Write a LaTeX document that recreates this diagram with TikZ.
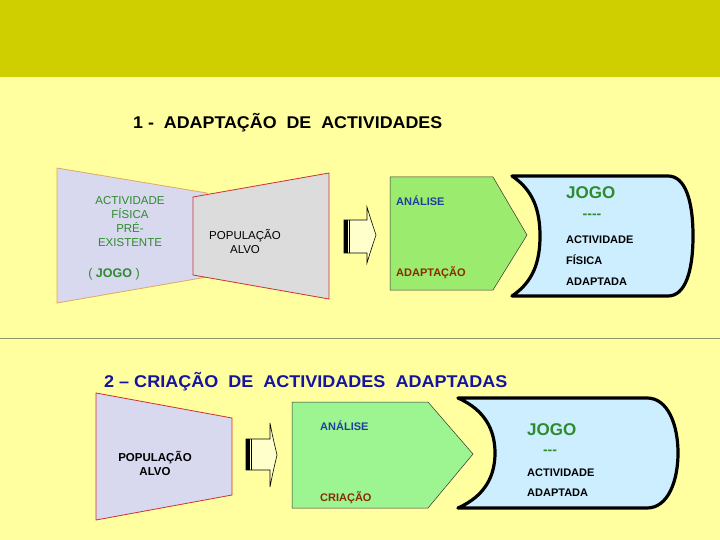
\documentclass[tikz,border=0pt]{standalone}
\usepackage{fontspec}
\setmainfont{Liberation Sans}
\definecolor{banner}{HTML}{CFCF00}
\definecolor{bg}{HTML}{FFFFA0}
\definecolor{lav}{HTML}{D8D8EE}
\definecolor{greyfill}{HTML}{DCDCDC}
\definecolor{tan}{HTML}{E0A860}
\definecolor{redb}{HTML}{D03030}
\definecolor{greenA}{HTML}{9BEB6E}
\definecolor{greenB}{HTML}{9CF590}
\definecolor{skyb}{HTML}{CCEEFF}
\definecolor{txtgreen}{HTML}{2E8B2E}
\definecolor{txtblue}{HTML}{1F3FA0}
\definecolor{txtbrown}{HTML}{8B2A00}
\definecolor{titleblue}{HTML}{1414A0}
\definecolor{cream}{HTML}{FFFFCC}
\definecolor{divider}{HTML}{8A9A6A}
\tikzset{
  txt/.style={inner sep=0pt, anchor=west},
  small/.style={font=\fontsize{11.5}{14}\selectfont},
  bsmall/.style={font=\fontsize{11}{14}\selectfont\bfseries},
  arrowbox/.style={fill=cream, draw=black, line width=0.6pt},
  outcome/.style={fill=skyb, draw=black, line width=3.2pt, line join=round},
  pent/.style={draw=black!80, line width=0.5pt},
  dashtxt/.style={inner sep=0pt, font=\fontsize{14}{14}\selectfont\bfseries, text=txtgreen}
}
\begin{document}
\begin{tikzpicture}[x=1pt,y=-1pt]
\useasboundingbox (0,0) rectangle (720,540);
\fill[bg] (0,0) rectangle (720,540);
\fill[banner] (0,0) rectangle (720,77);
\draw[divider, line width=1pt] (0,338) -- (720,338);

% titles
\node[txt, font=\fontsize{17}{18}\selectfont\bfseries] (t1) at (133,123) {\scalebox{1.05}[1]{1 -\ \ ADAPTAÇÃO\ \ DE\ \ ACTIVIDADES}};
\node[txt, font=\fontsize{17}{18}\selectfont\bfseries, text=titleblue] (t2) at (104,382) {\scalebox{1.06}[1]{2 – CRIAÇÃO\ \ DE\ \ ACTIVIDADES\ \ ADAPTADAS}};

% ---------- section 1 ----------
\draw[fill=lav, draw=tan, line width=0.8pt] (57,168) -- (207,193) -- (207,277) -- (57,303) -- cycle;
\draw[fill=greyfill, draw=redb, line width=0.8pt] (193,197) -- (329,173) -- (329,299) -- (193,275) -- cycle;
\node[small, text=txtgreen, align=center, inner sep=0pt] (act) at (130,222) {ACTIVIDADE\\FÍSICA\\PRÉ-\\EXISTENTE};
\node[inner sep=0pt, font=\fontsize{12.5}{14}\selectfont, text=txtgreen] (jogo0) at (114,274) {( \textbf{JOGO} )};
\node[small, align=center, inner sep=0pt] (pop1) at (245,242) {POPULAÇÃO\\ALVO};

% arrow 1
\draw[arrowbox] (344,220) -- (367,220) -- (367,207) .. controls (371,220) .. (376,235) .. controls (371,250) .. (367,263) -- (367,253) -- (344,253) -- cycle;
\fill[black] (344,220) rectangle (347.5,253);
\draw[black, line width=0.8pt] (349.5,220) -- (349.5,253);

% pentagon 1
\draw[pent, fill=greenA] (390,177) -- (493,177) -- (527,235) -- (493,290) -- (390,290) -- cycle;
\node[txt, bsmall, text=txtblue] (an1) at (396,201) {ANÁLISE};
\node[txt, bsmall, text=txtbrown] (ad1) at (396,273) {ADAPTAÇÃO};

% outcome 1
\draw[outcome] (512,176) -- (668,176) .. controls (685,176) and (693,200) .. (693,236)
  .. controls (693,272) and (685,296) .. (668,296) -- (512,296)
  .. controls (533,282) and (540,262) .. (540,236) .. controls (540,210) and (533,190) .. (512,176) -- cycle;
\node[txt, font=\fontsize{17}{18}\selectfont\bfseries, text=txtgreen] (jg1) at (566,193) {JOGO};
\node[dashtxt] (d1) at (592,216) {{-}{-}{-}{-}};
\node[txt, bsmall] (r1a) at (566,240) {ACTIVIDADE};
\node[txt, bsmall] (r1b) at (566,260) {FÍSICA};
\node[txt, bsmall] (r1c) at (566,282) {ADAPTADA};

% ---------- section 2 ----------
\draw[fill=lav, draw=redb, line width=0.8pt] (96,393) -- (232,418) -- (232,495) -- (96,520) -- cycle;
\node[align=center, inner sep=0pt, font=\fontsize{11.5}{14}\selectfont\bfseries] (pop2) at (155,463) {POPULAÇÃO\\ALVO};

% arrow 2
\draw[arrowbox] (246,439) -- (270,439) -- (270,423) .. controls (273,438) .. (277,455) .. controls (273,472) .. (270,487) -- (270,470) -- (246,470) -- cycle;
\fill[black] (246,439) rectangle (249.5,470);
\draw[black, line width=0.8pt] (251.5,439) -- (251.5,470);

% pentagon 2
\draw[pent, fill=greenB] (292,402) -- (428,402) -- (473,454) -- (428,508) -- (292,508) -- cycle;
\node[txt, bsmall, text=txtblue] (an2) at (320,426) {ANÁLISE};
\node[txt, bsmall, text=txtbrown] (cr2) at (320,498) {CRIAÇÃO};

% outcome 2
\draw[outcome] (458,398) -- (647,398) .. controls (668,398) and (678,425) .. (678,453)
  .. controls (678,481) and (668,508) .. (647,508) -- (458,508)
  .. controls (485,496) and (495,476) .. (495,453) .. controls (495,430) and (485,410) .. (458,398) -- cycle;
\node[txt, font=\fontsize{17}{18}\selectfont\bfseries, text=txtgreen] (jg2) at (527,430) {JOGO};
\node[dashtxt] (d2) at (550,452) {{-}{-}{-}};
\node[txt, bsmall] (r2a) at (527,473) {ACTIVIDADE};
\node[txt, bsmall] (r2b) at (527,493) {ADAPTADA};
\end{tikzpicture}
\end{document}
